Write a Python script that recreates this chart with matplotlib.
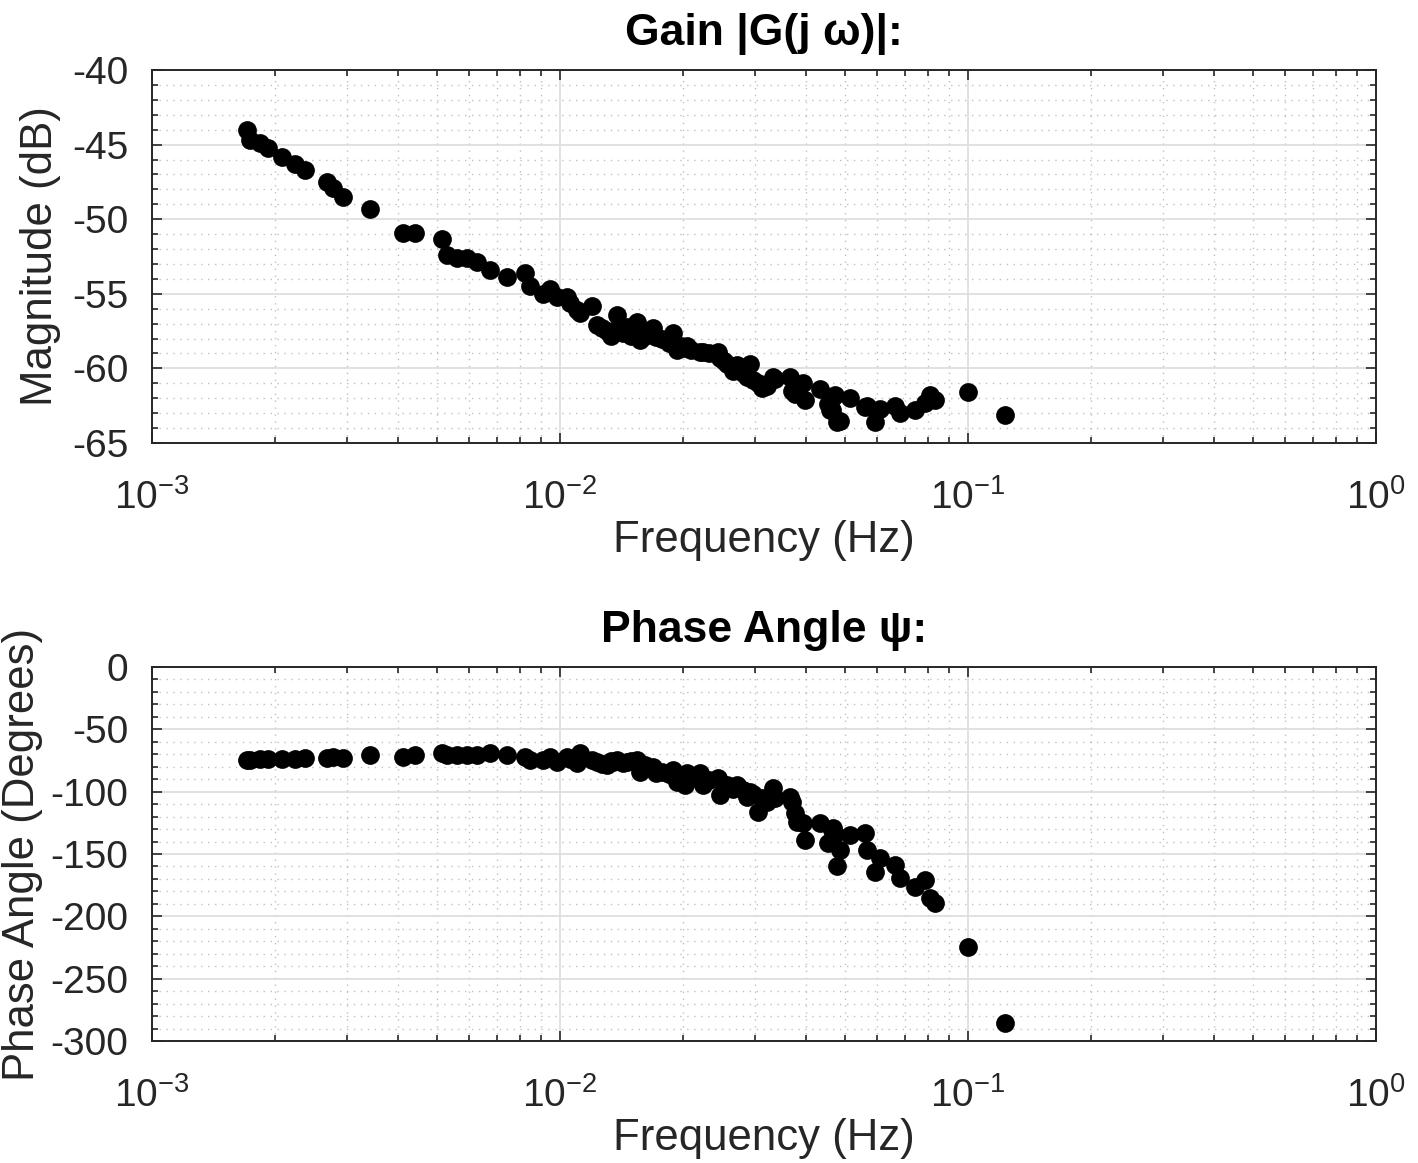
import numpy as np
import matplotlib
matplotlib.use("Agg")
import matplotlib.pyplot as plt
from matplotlib.ticker import MultipleLocator, LogLocator, LogFormatterMathtext, NullFormatter

plt.rcParams['font.family'] = ['Liberation Sans', 'DejaVu Sans']
plt.rcParams['mathtext.fontset'] = 'custom'
plt.rcParams['mathtext.rm'] = 'Liberation Sans'
plt.rcParams['mathtext.it'] = 'Liberation Sans:italic'
plt.rcParams['mathtext.bf'] = 'Liberation Sans:bold'
plt.rcParams['mathtext.default'] = 'regular'
plt.rcParams['axes.unicode_minus'] = False

freq = [0.00171, 0.00174, 0.00184, 0.00192, 0.00208, 0.00224, 0.00237, 0.00268,
        0.00278, 0.00294, 0.00342, 0.00412, 0.00441, 0.00513, 0.00528, 0.00558,
        0.00592, 0.00625, 0.00674, 0.00740, 0.00821, 0.00845, 0.00909, 0.00945,
        0.00982, 0.01038, 0.01099, 0.01119, 0.01196, 0.0123, 0.01302, 0.01349,
        0.01377, 0.01457, 0.01542, 0.01571, 0.0169, 0.0172, 0.01895, 0.01932,
        0.02025, 0.02044, 0.02204, 0.02242, 0.02443, 0.02467, 0.02562, 0.02655,
        0.02711, 0.02922, 0.02978, 0.03064, 0.03123, 0.03333, 0.03365, 0.03662,
        0.03698, 0.03767, 0.03803, 0.03948, 0.03986, 0.04338, 0.04546, 0.0459,
        0.04633, 0.04676, 0.0472, 0.04766, 0.04856, 0.05137, 0.05592, 0.0565,
        0.05916, 0.06085, 0.06624, 0.06812, 0.07417, 0.07847, 0.08072, 0.08299,
        0.1, 0.1232,
        0.0106, 0.0127, 0.0133, 0.0143, 0.0149, 0.0162, 0.0178, 0.0185,
        0.0198, 0.0210, 0.0232, 0.0252, 0.0281, 0.0287, 0.0322]

magnitude_db = [-44.0, -44.7, -44.9, -45.2, -45.8, -46.3, -46.7, -47.5,
                -47.9, -48.5, -49.3, -50.9, -50.9, -51.3, -52.4, -52.6,
                -52.6, -52.9, -53.4, -53.9, -53.6, -54.5, -55.0, -54.7,
                -55.2, -55.2, -56.1, -56.3, -55.8, -57.1, -57.5, -57.5,
                -56.4, -57.2, -56.9, -58.1, -57.3, -57.9, -57.6, -58.8,
                -58.6, -58.5, -58.9, -58.9, -58.9, -59.3, -59.7, -60.2,
                -59.8, -59.7, -60.8, -61.0, -61.3, -60.6, -60.7, -60.6,
                -61.5, -61.7, -61.5, -61.0, -62.1, -61.4, -62.4, -62.8,
                -62.8, -61.9, -61.8, -63.6, -63.5, -62.0, -62.6, -62.5,
                -63.6, -62.7, -62.5, -63.0, -62.8, -62.3, -61.8, -62.1,
                -61.6, -63.1,
                -55.6, -57.3, -57.8, -57.6, -57.8, -57.8, -58.0, -58.3,
                -58.5, -58.8, -59.0, -59.5, -60.3, -60.6, -61.2]

phase_deg = [-74.6, -74.5, -74.0, -74.0, -73.5, -73.5, -73.0, -73.0,
             -72.5, -73.0, -70.6, -72.0, -70.6, -69.3, -70.6, -70.6,
             -70.6, -70.6, -69.3, -70.6, -72.0, -74.6, -74.6, -72.0,
             -76.0, -72.0, -77.0, -69.3, -74.6, -76.0, -78.6, -76.0,
             -74.6, -76.0, -74.6, -84.0, -80.0, -85.3, -82.6, -92.0,
             -94.6, -85.3, -85.3, -94.6, -89.3, -102.7, -95.0, -98.0,
             -94.6, -100.0, -102.0, -116.0, -105.3, -97.3, -105.3, -104.0,
             -108.5, -117.4, -124.0, -125.4, -138.8, -125.4, -141.4, -140.0,
             -130.7, -129.4, -134.0, -160.0, -146.8, -134.8, -133.5, -146.8,
             -164.2, -153.4, -158.8, -169.5, -176.2, -170.9, -185.5, -189.6,
             -224.3, -285.8,
             -74.0, -77.5, -75.0, -77.0, -75.5, -79.0, -84.0, -86.0,
             -90.0, -88.0, -91.0, -97.0, -99.0, -104.0, -108.0]

W, H = 1418, 1163
fig = plt.figure(figsize=(W / 100, H / 100), dpi=100)

left = 152 / W
width = (1376 - 152) / W
ax1 = fig.add_axes([left, 1 - 443 / H, width, (443 - 70) / H])
ax2 = fig.add_axes([left, 1 - 1041 / H, width, (1041 - 667) / H])

txt = '#262626'
fs_tick = 28
fs_lab = 31.5
fs_title = 32

def style(ax, ylim, ymaj, ymin):
    ax.set_xscale('log')
    ax.set_xlim(1e-3, 1)
    ax.set_ylim(*ylim)
    ax.yaxis.set_major_locator(MultipleLocator(ymaj))
    ax.yaxis.set_minor_locator(MultipleLocator(ymin))
    ax.xaxis.set_major_locator(LogLocator(base=10, numticks=10))
    ax.xaxis.set_minor_locator(LogLocator(base=10, subs=np.arange(2, 10), numticks=20))
    ax.xaxis.set_major_formatter(LogFormatterMathtext())
    ax.xaxis.set_minor_formatter(NullFormatter())
    ax.grid(True, which='major', color='#dcdcdc', linewidth=1.2, linestyle='-')
    ax.grid(True, which='minor', color='#c0c0c0', linewidth=1.0, linestyle=(0, (1, 4)))
    ax.set_axisbelow(True)
    ax.tick_params(which='both', direction='in', top=True, right=True,
                   colors=txt, labelsize=fs_tick, width=1.2)
    ax.tick_params(which='major', length=7)
    ax.tick_params(which='minor', length=4)
    ax.tick_params(axis='x', which='major', pad=26)
    ax.tick_params(axis='y', which='major', pad=17)
    for s in ax.spines.values():
        s.set_color('#262626')
        s.set_linewidth(1.4)
    ax.set_xlabel('Frequency (Hz)', fontsize=fs_lab, color=txt, labelpad=2)

ax1.plot(freq, magnitude_db, 'o', color='black', markersize=13.5, markeredgewidth=0)
style(ax1, (-65, -40), 5, 1)
ax1.set_ylabel('Magnitude (dB)', fontsize=fs_lab, color=txt, labelpad=8)
ax1.set_title('Gain |G(j ω)|:', fontsize=fs_title, fontweight='bold', color='black', pad=18)

ax2.plot(freq, phase_deg, 'o', color='black', markersize=13.5, markeredgewidth=0)
style(ax2, (-300, 0), 50, 10)
ax2.set_ylabel('Phase Angle (Degrees)', fontsize=fs_lab, color=txt, labelpad=5)
ax2.set_title('Phase Angle ψ:', fontsize=fs_title, fontweight='bold', color='black', pad=18)

fig.savefig('out.png', dpi=100)
